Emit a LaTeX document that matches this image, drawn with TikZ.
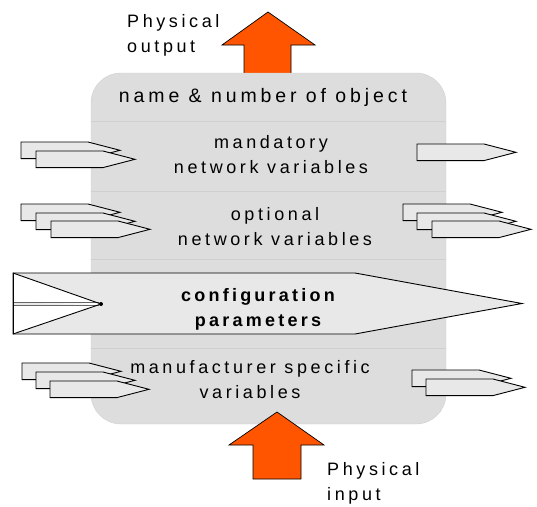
\documentclass[tikz,border=0pt]{standalone}
\usepackage{fontspec}
\setmainfont{Liberation Sans}[LetterSpace=20]
\definecolor{boxgray}{HTML}{DDDDDD}
\definecolor{sepgray}{HTML}{D0D0D0}
\definecolor{arrfill}{HTML}{E8E8E8}
\definecolor{physorange}{RGB}{255,85,0}
\tikzset{
  sarr/.style={draw=black, fill=arrfill, line width=0.9pt, line join=miter},
  physarr/.style={draw=black, fill=physorange, line width=0.7pt},
  lbl/.style={font=\fontsize{18}{25}\selectfont, align=center, inner sep=0pt},
  sidelbl/.style={font=\fontsize{18}{25}\selectfont, align=left, inner sep=0pt, anchor=west},
}
\newcommand\sarrow[2]{\draw[sarr] (#1,#2) -- ++(67,0) -- ++(32,8.3) -- ++(-32,8.3) -- ++(-67,0) -- cycle;}
\begin{document}
\begin{tikzpicture}[x=1pt,y=-1pt]
\useasboundingbox (0,0) rectangle (537,506);
% physical output arrow (behind the box)
\draw[physarr] (244,90) -- (244,45) -- (222,45) -- (268,12) -- (315,45) -- (291,45) -- (291,90) -- cycle;
% object box
\draw[draw=sepgray, fill=boxgray, rounded corners=30pt] (91,73) rectangle (446,424);
\foreach \yy in {121,191,259,348} \draw[sepgray, line width=1pt] (91,\yy) -- (446,\yy);
% small arrows left
\sarrow{21}{142}\sarrow{36}{151}
\sarrow{21}{204}\sarrow{36}{213}\sarrow{51}{221}
\sarrow{22}{363}\sarrow{36}{372}\sarrow{50}{381}
% small arrows right
\sarrow{417}{144}
\sarrow{403}{204}\sarrow{417}{213}\sarrow{432}{221}
\sarrow{412}{370}\sarrow{426}{379}
% configuration arrow
\draw[fill=arrfill, line width=0.9pt, line join=miter] (13,273) -- (355,273) -- (522,303.5) -- (355,334) -- (13,334) -- cycle;
\fill[white] (13,273) -- (101,304) -- (13,302.8) -- cycle;
\fill[white] (13,305.6) -- (101,304) -- (13,334) -- cycle;
\draw[gray!80!black, line width=0.9pt] (13,302.8) -- (99,302.8);
\draw[gray!80!black, line width=0.9pt] (13,305.6) -- (99,305.6);
\draw[line width=0.9pt] (13,273) -- (101,304) -- (13,334);
\fill (101,304) circle (2pt);
\draw[line width=0.9pt] (13,273) -- (13,334);
% physical input arrow
\draw[physarr] (253,479) -- (253,445) -- (229,445) -- (277,412) -- (324,445) -- (301,445) -- (301,479) -- cycle;
% texts
\node[lbl, font=\fontsize{19.5}{25}\selectfont] (title) at (263,97) {name \& number of object};
\node[lbl] (mand) at (271,155) {mandatory\\network variables};
\node[lbl] (opt) at (275,227) {optional\\network variables};
\node[lbl, font=\fontsize{18}{25}\selectfont\bfseries\addfontfeatures{LetterSpace=18}] (conf) at (258,309) {configuration\\parameters};
\node[lbl] (manu) at (250,380) {manufacturer specific\\variables};
\node[sidelbl] (pout) at (127,35) {Physical\\output};
\node[sidelbl] (pin) at (327,483) {Physical\\input};
\end{tikzpicture}
\end{document}
